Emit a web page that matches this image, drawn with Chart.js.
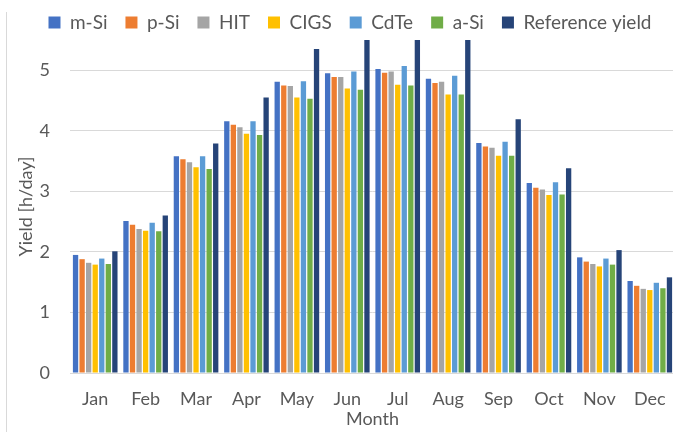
<!DOCTYPE html>
<html>
<head>
<meta charset="utf-8">
<script src="https://cdn.jsdelivr.net/npm/chart.js@4/dist/chart.umd.min.js"></script>
<style>
    html, body { margin: 0; padding: 0; background: #fff; overflow: hidden; }
    #wrap { position: relative; width: 700px; height: 432px; }
    #edge { position: absolute; left: 6px; top: 12px; bottom: 0; width: 1px; background: #d9d9d9; }
</style>
</head>
<body>
<div id="wrap">
    <canvas id="yieldChart" width="700" height="432"></canvas>
    <div id="edge"></div>
</div>
<script>
// Monthly yield per technology [h/day]
const months = ['Jan', 'Feb', 'Mar', 'Apr', 'May', 'Jun', 'Jul', 'Aug', 'Sep', 'Oct', 'Nov', 'Dec'];
const mSi  = [1.95, 2.51, 3.58, 4.16, 4.81, 4.95, 5.02, 4.86, 3.80, 3.14, 1.91, 1.52];
const pSi  = [1.88, 2.45, 3.53, 4.10, 4.75, 4.89, 4.96, 4.79, 3.74, 3.06, 1.84, 1.44];
const hit  = [1.82, 2.38, 3.48, 4.06, 4.74, 4.89, 4.98, 4.81, 3.72, 3.03, 1.80, 1.39];
const cigs = [1.79, 2.35, 3.40, 3.95, 4.55, 4.70, 4.76, 4.60, 3.59, 2.94, 1.76, 1.37];
const cdTe = [1.89, 2.48, 3.58, 4.16, 4.82, 4.98, 5.07, 4.91, 3.82, 3.15, 1.89, 1.49];
const aSi  = [1.80, 2.34, 3.37, 3.93, 4.53, 4.68, 4.75, 4.60, 3.59, 2.95, 1.79, 1.40];
const refYield = [2.01, 2.60, 3.79, 4.55, 5.35, 5.75, 5.85, 5.70, 4.19, 3.38, 2.03, 1.58];
const yTicks = [0, 1, 2, 3, 4, 5];

const textColor = '#595959';
const gridColor = '#d9d9d9';
const font = { family: 'Lato', size: 18 };

function series(label, data, color) {
    return {
        label: label,
        data: data,
        backgroundColor: color,
        borderWidth: 0,
        barPercentage: 0.81,
        categoryPercentage: 0.91,
        clip: 0
    };
}

// fixed legend height so the plot starts where the original does
const legendHeight = {
    id: 'legendHeight',
    beforeInit(chart) {
        const fit = chart.legend.fit;
        chart.legend.fit = function () {
            fit.bind(chart.legend)();
            this.height = 45;
        };
    }
};

const ctx = document.getElementById('yieldChart').getContext('2d');
new Chart(ctx, {
    type: 'bar',
    data: {
        labels: months,
        datasets: [
            series('m-Si', mSi, '#4472C4'),
            series('p-Si', pSi, '#ED7D31'),
            series('HIT', hit, '#A5A5A5'),
            series('CIGS', cigs, '#FFC000'),
            series('CdTe', cdTe, '#5B9BD5'),
            series('a-Si', aSi, '#70AD47'),
            series('Reference yield', refYield, '#264478')
        ]
    },
    options: {
        responsive: false,
        animation: false,
        layout: { padding: { top: -5 } },
        plugins: {
            legend: {
                position: 'top',
                labels: {
                    boxWidth: 12,
                    boxHeight: 12,
                    padding: 18,
                    color: textColor,
                    font: { family: 'Lato', size: 19 }
                }
            },
            tooltip: { enabled: false }
        },
        scales: {
            x: {
                grid: { display: false, drawTicks: false },
                border: { color: gridColor },
                ticks: { color: textColor, font: font, padding: 15 },
                title: {
                    display: true,
                    text: 'Month',
                    color: textColor,
                    font: font,
                    padding: { top: 0, bottom: 2 }
                },
                afterFit(scale) { scale.height = 59; }
            },
            y: {
                min: 0,
                max: 5.5,
                grid: { color: gridColor, drawTicks: false },
                border: { display: false },
                ticks: { color: textColor, font: font, padding: 20 },
                afterBuildTicks(scale) {
                    scale.ticks = yTicks.map(v => ({ value: v }));
                },
                title: {
                    display: true,
                    text: 'Yield [h/day]',
                    color: textColor,
                    font: font,
                    padding: { top: 15, bottom: 0 }
                },
                afterFit(scale) { scale.width = 70; }
            },
            spacer: {
                position: 'right',
                display: true,
                grid: { display: false, drawTicks: false },
                border: { display: false },
                ticks: { display: false },
                afterFit(scale) { scale.width = 25; }
            }
        }
    },
    plugins: [legendHeight]
});
</script>
</body>
</html>
